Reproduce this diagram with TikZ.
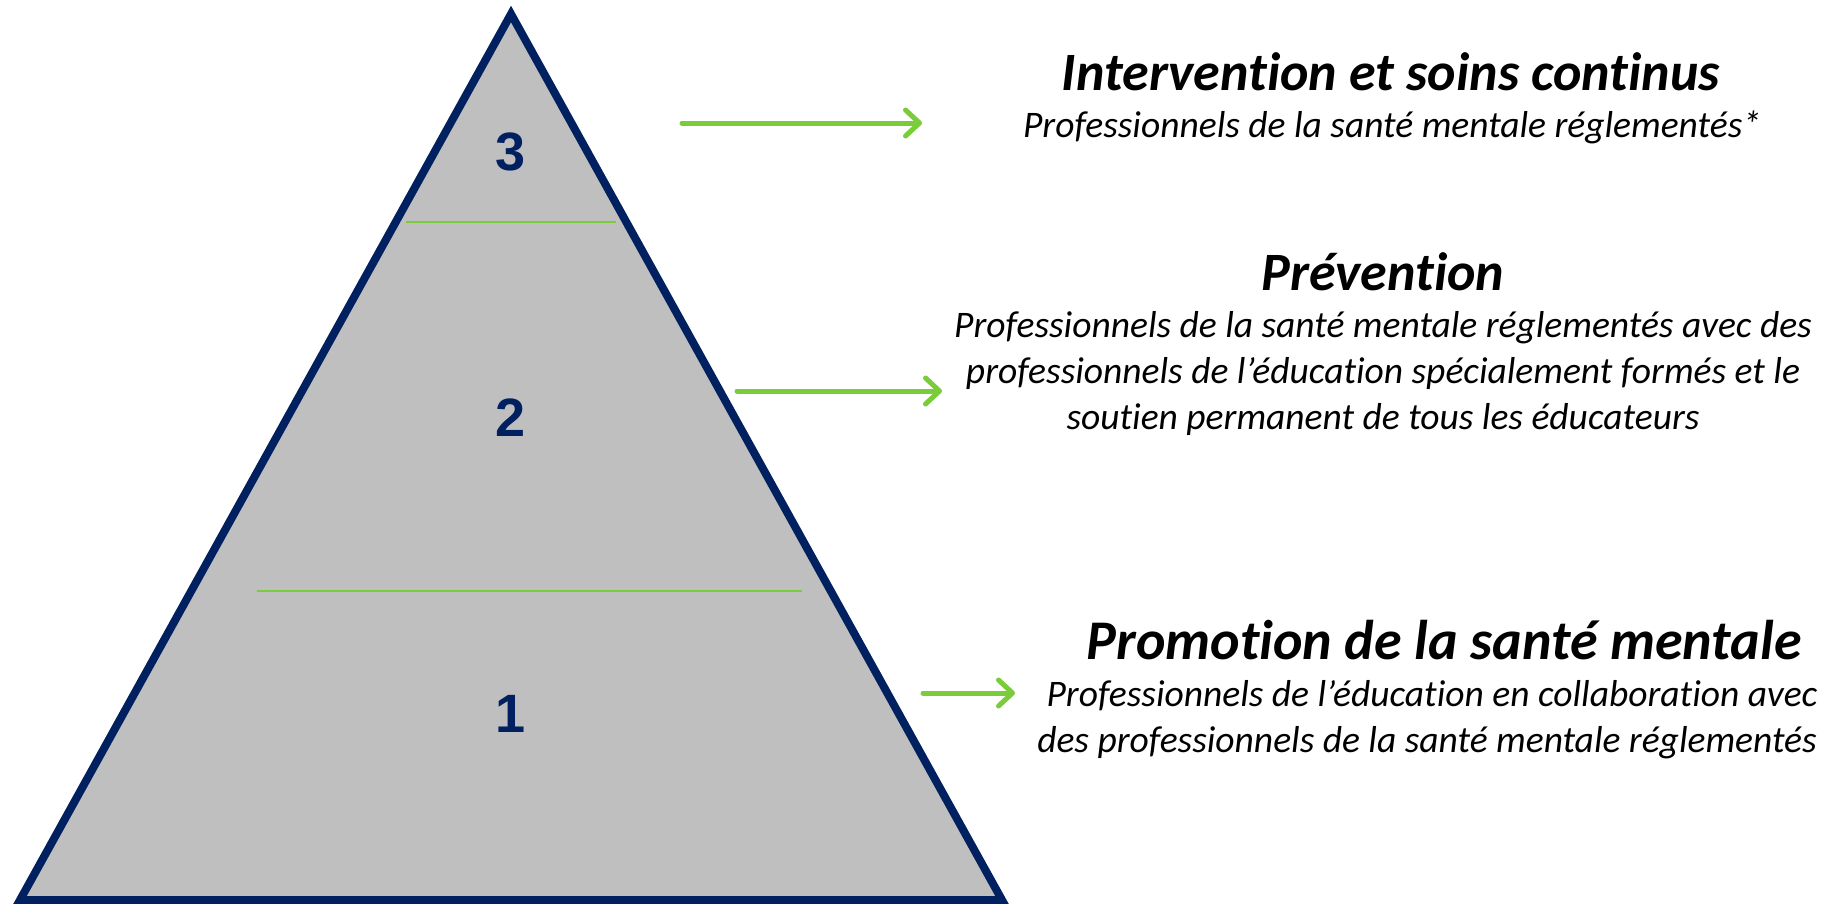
\documentclass[tikz,border=0pt]{standalone}
\usepackage{fontspec}
\setmainfont[Ligatures={NoCommon}]{Carlito}
\newfontfamily\numfont{Liberation Sans}
\usetikzlibrary{arrows.meta}
\definecolor{navy}{RGB}{0,32,96}
\definecolor{pyrgray}{RGB}{191,191,191}
\definecolor{lgreen}{RGB}{122,204,58}
\tikzset{
  pyramid/.style={draw=navy, fill=pyrgray, line width=8pt, line join=miter},
  divider/.style={draw=lgreen, line width=2pt},
  levelnum/.style={text=navy, font=\numfont\bfseries\fontsize{54}{60}\selectfont, inner sep=0pt},
  greenarrow/.style={draw=lgreen, line width=5pt, line cap=round, line join=round,
    -{Straight Barb[length=14pt, width=26pt, line cap=round, line join=round]}},
  ttl/.style={anchor=base, inner sep=0pt, font=\bfseries\itshape\fontsize{54}{60}\selectfont},
  body/.style={anchor=base, inner sep=0pt, font=\itshape\fontsize{37.5}{46}\selectfont},
}
\begin{document}
\begin{tikzpicture}[x=1pt, y=-1pt]
\useasboundingbox (0,0) rectangle (1835,903);
\fill[white] (0,0) rectangle (1835,903);
% pyramid
\coordinate (apex) at (511,14);
\coordinate (bl) at (20,900);
\coordinate (br) at (1002,900);
\draw[pyramid] (apex) -- (bl) -- (br) -- cycle;
\coordinate (d1a) at (406,222); \coordinate (d1b) at (616,222);
\coordinate (d2a) at (257,591); \coordinate (d2b) at (802,591);
\draw[divider] (d1a) -- (d1b);
\draw[divider] (d2a) -- (d2b);
\node[levelnum] (n3) at (511,152) {3};
\node[levelnum] (n2) at (511,418) {2};
\node[levelnum] (n1) at (511,714) {1};
% arrows
\coordinate (a1s) at (682,123); \coordinate (a1e) at (922,123);
\coordinate (a2s) at (737,391); \coordinate (a2e) at (942,391);
\coordinate (a3s) at (923,693); \coordinate (a3e) at (1015,693);
\draw[greenarrow] (a1s) -- (a1e);
\draw[greenarrow] (a2s) -- (a2e);
\draw[greenarrow] (a3s) -- (a3e);
% texts
\node[ttl] (t3) at (1391,90) {Intervention et soins continus};
\node[body] (b3) at (1392,137) {Professionnels de la santé mentale réglementés*};
\node[ttl] (t2) at (1383,290) {Prévention};
\node[body] (b2a) at (1383,337) {Professionnels de la santé mentale réglementés avec des};
\node[body] (b2b) at (1383,383) {professionnels de l’éducation spécialement formés et le};
\node[body] (b2c) at (1383,429) {soutien permanent de tous les éducateurs};
\node[ttl, font=\bfseries\itshape\fontsize{56}{62}\selectfont] (t1) at (1444,659) {Promotion de la santé mentale};
\node[body] (b1a) at (1432,706) {Professionnels de l’éducation en collaboration avec};
\node[body] (b1b) at (1427,752) {des professionnels de la santé mentale réglementés};
\end{tikzpicture}
\end{document}
